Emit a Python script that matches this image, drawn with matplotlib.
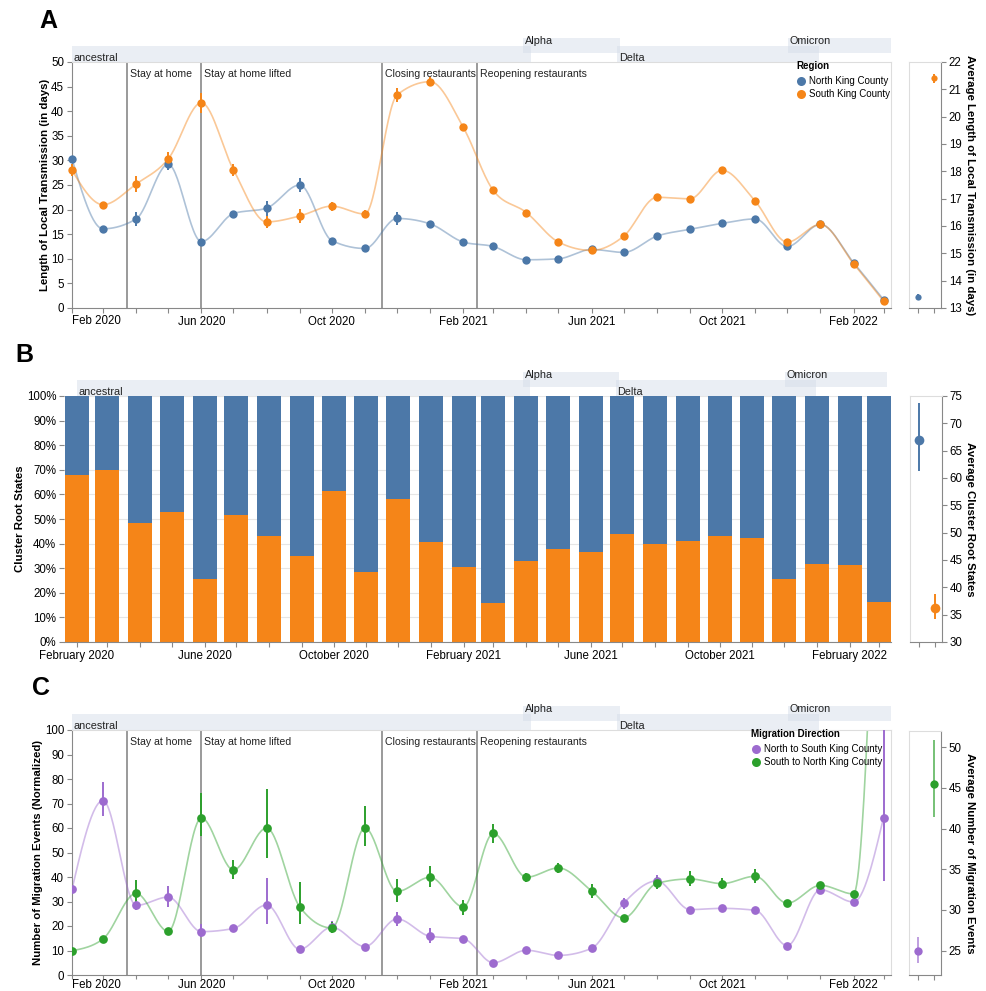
import matplotlib
matplotlib.use('Agg')
import matplotlib.pyplot as plt
import matplotlib.dates as mdates
from matplotlib.lines import Line2D
import numpy as np
import pandas as pd

plt.rcParams['font.family'] = ['Liberation Sans', 'DejaVu Sans']

# monthly time points, Feb 2020 .. Mar 2022
months = pd.date_range('2020-02-01', '2022-03-01', freq='MS')

# panel A: length of local transmission (days)
north_len = [30.3, 16.1, 18.1, 29.2, 13.5, 19.2, 20.3, 25.0, 13.7, 12.1, 18.2, 17.1, 13.4,
             12.5, 9.8, 10.0, 11.9, 11.3, 14.6, 16.0, 17.2, 18.1, 12.5, 17.0, 9.2, 1.7]
north_len_err = [0.5, 0.4, 1.5, 1.1, 0.4, 0.5, 1.5, 1.4, 0.4, 0.4, 1.3, 0.6, 0.4,
                 0.3, 0.3, 0.3, 0.4, 0.3, 0.4, 0.4, 0.4, 0.4, 0.3, 0.3, 0.3, 0.3]
south_len = [28.0, 21.0, 25.2, 30.3, 41.7, 28.1, 17.5, 18.7, 20.7, 19.1, 43.3, 46.0, 36.7,
             23.9, 19.4, 13.4, 11.7, 14.6, 22.5, 22.2, 28.0, 21.7, 13.4, 17.0, 9.0, 1.4]
south_len_err = [1.2, 0.4, 1.7, 1.4, 2.1, 1.2, 1.2, 1.5, 0.9, 0.9, 1.5, 0.9, 0.5,
                 0.4, 0.4, 0.3, 0.4, 0.4, 0.4, 0.5, 0.5, 0.4, 0.4, 0.3, 0.4, 0.3]
avg_len = [13.4, 21.4]
avg_len_err = [0.1, 0.15]

# panel B: share of cluster roots in South King County (%)
south_share = [67.7, 70.0, 48.5, 52.9, 25.5, 51.6, 43.2, 34.9, 61.3, 28.3, 58.2, 40.6, 30.6,
               15.8, 32.9, 37.9, 36.5, 43.9, 39.7, 40.9, 42.9, 42.3, 25.7, 31.7, 31.5, 16.3]
avg_roots = [67.0, 36.2]
avg_roots_lo = [61.3, 34.2]
avg_roots_hi = [73.7, 38.8]

# panel C: normalized migration events
n2s = [35.0, 71.2, 28.4, 31.8, 17.7, 19.0, 28.6, 10.5, 19.5, 11.6, 22.9, 15.8, 14.8,
       5.0, 10.1, 8.0, 10.9, 29.3, 38.4, 26.7, 27.2, 26.4, 12.0, 34.8, 29.8, 64.2]
n2s_lo = [33.5, 65.0, 26.5, 27.8, 15.5, 18.0, 21.0, 9.5, 17.5, 10.6, 20.0, 13.0, 14.0,
          4.3, 9.4, 7.3, 10.0, 27.0, 36.0, 26.0, 26.5, 25.7, 11.3, 34.0, 29.0, 38.2]
n2s_hi = [36.5, 78.6, 30.5, 36.5, 21.0, 20.0, 39.6, 11.5, 22.0, 12.6, 25.8, 19.0, 15.6,
          5.7, 10.8, 8.7, 11.8, 31.5, 41.0, 27.4, 27.9, 27.1, 12.7, 35.6, 30.6, 110.0]
s2n = [9.9, 14.7, 33.3, 17.8, 64.1, 42.9, 60.0, 27.8, 19.2, 60.0, 34.1, 39.9, 27.8,
       57.8, 39.9, 43.7, 34.3, 23.3, 37.4, 39.2, 37.3, 40.3, 29.3, 36.6, 33.1, 280.0]
s2n_lo = [9.2, 14.0, 28.7, 17.0, 56.6, 39.3, 47.8, 21.0, 17.0, 52.8, 29.8, 35.9, 24.6,
          53.9, 38.0, 41.6, 31.5, 22.5, 35.2, 36.4, 35.2, 37.4, 28.5, 35.8, 32.3, 260.0]
s2n_hi = [10.6, 15.4, 38.9, 18.6, 74.3, 47.1, 76.1, 38.1, 21.5, 69.1, 39.2, 44.4, 30.7,
          61.8, 41.6, 45.9, 37.2, 24.1, 39.8, 42.4, 39.7, 43.2, 30.1, 37.4, 33.9, 300.0]
avg_mig = [25.0, 45.5]
avg_mig_lo = [23.5, 41.4]
avg_mig_hi = [26.7, 50.9]

events = [('2020-03-23', 'Stay at home'),
          ('2020-06-01', 'Stay at home lifted'),
          ('2020-11-17', 'Closing restaurants'),
          ('2021-02-14', 'Reopening restaurants')]
# (name, start, end, row) row 0 = lower strip, 1 = upper strip
variants = [('ancestral', '2020-02-01', '2021-04-05', 0),
            ('Alpha', '2021-03-29', '2021-06-28', 1),
            ('Delta', '2021-06-25', '2021-12-31', 0),
            ('Omicron', '2021-12-02', '2022-03-08', 1)]

major_dates = ['2020-02-01', '2020-06-01', '2020-10-01', '2021-02-01',
               '2021-06-01', '2021-10-01', '2022-02-01']
short_labels = ['Feb 2020', 'Jun 2020', 'Oct 2020', 'Feb 2021', 'Jun 2021', 'Oct 2021', 'Feb 2022']
long_labels = ['February 2020', 'June 2020', 'October 2020', 'February 2021',
               'June 2021', 'October 2021', 'February 2022']

BLUE, ORANGE = '#4c78a8', '#f58518'
PURPLE, GREEN = '#9d6bcf', '#2ca02c'
AXC, VIEW = '#888888', '#dddddd'
TICK_FS = 8.3
TITLE_FS = 8.2
NOTE_FS = 7.6
LEG_FS = 7.0

W, H = 987, 991
fig = plt.figure(figsize=(W / 100, H / 100), dpi=100)


def d(s):
    return mdates.date2num(pd.Timestamp(s))


xm = mdates.date2num(months)


def px_axes(left, top, right, bottom):
    return fig.add_axes([left / W, 1 - bottom / H, (right - left) / W, (bottom - top) / H])


def monotone(x, y, steps=30):
    # same as d3 curveMonotoneX
    x = np.asarray(x, float)
    y = np.asarray(y, float)
    h = np.diff(x)
    s = np.diff(y) / h
    m = np.zeros_like(y)
    sg = lambda v: -1 if v < 0 else 1
    for i in range(1, len(y) - 1):
        p = (s[i - 1] * h[i] + s[i] * h[i - 1]) / (h[i - 1] + h[i])
        m[i] = (sg(s[i - 1]) + sg(s[i])) * min(abs(s[i - 1]), abs(s[i]), 0.5 * abs(p))
    m[0] = (3 * s[0] - m[1]) / 2
    m[-1] = (3 * s[-1] - m[-2]) / 2
    xs, ys = [], []
    for i in range(len(h)):
        t = np.linspace(0, 1, steps)
        h00 = 2 * t**3 - 3 * t**2 + 1
        h10 = t**3 - 2 * t**2 + t
        h01 = -2 * t**3 + 3 * t**2
        h11 = t**3 - t**2
        ys.append(h00 * y[i] + h10 * h[i] * m[i] + h01 * y[i + 1] + h11 * h[i] * m[i + 1])
        xs.append(x[i] + t * h[i])
    return np.concatenate(xs), np.concatenate(ys)


def style_main(ax):
    for side in ['top', 'right']:
        ax.spines[side].set_color(VIEW)
    for side in ['left', 'bottom']:
        ax.spines[side].set_color(AXC)
    for sp in ax.spines.values():
        sp.set_linewidth(0.8)
    ax.tick_params(which='both', length=3.6, width=0.8, color=AXC, labelsize=TICK_FS, pad=2)


def time_axis(ax, labels, flush_first, tick_len=3.6, pad=2, drop=7):
    ax.set_xticks([d(s) for s in major_dates])
    shown = list(labels)
    if flush_first:
        shown[0] = ''
        ax.annotate(labels[0], xy=(0, 0), xycoords='axes fraction', xytext=(0, -drop),
                    textcoords='offset pixels', ha='left', va='top', fontsize=TICK_FS)
    ax.set_xticklabels(shown)
    ax.set_xticks(xm, minor=True)
    ax.tick_params(axis='x', which='both', length=tick_len, pad=pad)


def variant_strip(top, left, right, xlim):
    bx = px_axes(left, top, right, top + 24)
    bx.set_xlim(xlim)
    bx.set_ylim(0, 24)
    bx.axis('off')
    for name, start, end, row in variants:
        y0, y1 = (0, 16) if row == 0 else (9, 24)
        bx.fill_between([d(start), d(end)], y0, y1, color='#d6deea', alpha=0.5, lw=0)
        bx.text(d(start) + 1.5, 0.8 if row == 0 else 17.5, name, fontsize=7.8,
                va='baseline', ha='left', color='#222222')


def event_lines(ax):
    for day, label in events:
        ax.axvline(d(day), color='#9a9a9a', lw=1.4, zorder=1)
        ax.annotate(label, xy=(d(day), 1), xycoords=('data', 'axes fraction'),
                    xytext=(3, -12), textcoords='offset pixels', ha='left', va='center',
                    fontsize=NOTE_FS, color='#222222')


def side_panel(left, top, bottom, vals, lo, hi, colors, ylim, yticks, title, msize, ealpha):
    sx = px_axes(left, top, left + 32, bottom)
    for i in range(2):
        sx.vlines(i, lo[i], hi[i], color=colors[i], lw=1.4, alpha=ealpha)
        sx.plot(i, vals[i], 'o', color=colors[i], ms=msize, mec='none')
    sx.set_xlim(-0.56, 1.44)
    sx.set_ylim(*ylim)
    sx.set_xticks([0, 1])
    sx.set_xticklabels([])
    sx.set_yticks(yticks)
    sx.yaxis.tick_right()
    for side in ['top', 'left']:
        sx.spines[side].set_color(VIEW)
    for side in ['right', 'bottom']:
        sx.spines[side].set_color(AXC)
    for sp in sx.spines.values():
        sp.set_linewidth(0.8)
    sx.tick_params(length=3.6, width=0.8, color=AXC, labelsize=TICK_FS, pad=2)
    fig.text(970 / W, 1 - (top + bottom) / 2 / H, title, rotation=-90, ha='center',
             va='center', fontsize=TITLE_FS, fontweight='bold')
    return sx


def legend_block(x, y, title, labels, colors):
    fig.text(x / W, 1 - y / H, title, fontsize=LEG_FS, fontweight='bold', va='center', ha='left')
    for k, (lab, col) in enumerate(zip(labels, colors)):
        yy = y + 15 + 13 * k
        fig.add_artist(Line2D([(x + 5) / W], [1 - yy / H], marker='o', color=col, ms=6.5,
                              mec='none', ls='none', transform=fig.transFigure))
        fig.text((x + 13) / W, 1 - yy / H, lab, fontsize=LEG_FS, va='center', ha='left')


def ylabel(x, top, bottom, text):
    fig.text(x / W, 1 - (top + bottom) / 2 / H, text, rotation=90, ha='center', va='center',
             fontsize=TITLE_FS, fontweight='bold')


xlim_line = (d('2020-02-01'), d('2022-03-08'))
xlim_bar = (d('2020-01-20'), d('2022-03-12'))

# ---- A: length of local transmission ----
axA = px_axes(72, 62, 891, 308)
event_lines(axA)
for vals, err, col in [(north_len, north_len_err, BLUE), (south_len, south_len_err, ORANGE)]:
    cx, cy = monotone(xm, vals)
    axA.plot(cx, cy, color=col, lw=1.2, alpha=0.45, zorder=2)
    v = np.array(vals)
    e = np.array(err)
    axA.vlines(xm, v - e, v + e, color=col, lw=1.4, zorder=3, clip_on=False)
    axA.plot(xm, vals, 'o', color=col, ms=6, mec='none', zorder=4, clip_on=False)
axA.set_xlim(xlim_line)
axA.set_ylim(0, 50)
axA.set_yticks(range(0, 51, 5))
style_main(axA)
time_axis(axA, short_labels, True)
variant_strip(38, 72, 891, xlim_line)
legend_block(796, 66, 'Region', ['North King County', 'South King County'], [BLUE, ORANGE])
ylabel(45, 62, 308, 'Length of Local Transmission (in days)')
side_panel(909, 62, 308, avg_len, np.array(avg_len) - np.array(avg_len_err),
           np.array(avg_len) + np.array(avg_len_err), [BLUE, ORANGE], (13, 22),
           range(13, 23), 'Average Length of Local Transmission (in days)', 4.5, 1.0)

# ---- B: cluster root states ----
axB = px_axes(64, 396, 891, 642)
share = np.array(south_share)
axB.bar(xm, share, width=22.7, color=ORANGE, zorder=2)
axB.bar(xm, 100 - share, bottom=share, width=22.7, color=BLUE, zorder=2)
axB.set_xlim(xlim_bar)
axB.set_ylim(0, 100)
axB.set_yticks(range(0, 101, 10))
axB.set_yticklabels([f'{t}%' for t in range(0, 101, 10)])
axB.grid(axis='y', color='#e6e6e6', lw=0.8, zorder=0)
axB.set_axisbelow(True)
style_main(axB)
for side in ['top', 'right', 'left']:
    axB.spines[side].set_visible(False)
time_axis(axB, long_labels, False)
variant_strip(372, 64, 891, xlim_bar)
ylabel(20, 396, 642, 'Cluster Root States')
side_panel(910, 396, 642, avg_roots, avg_roots_lo, avg_roots_hi, [BLUE, ORANGE], (30, 75),
           range(30, 76, 5), 'Average Cluster Root States', 7, 1.0)

# ---- C: migration events ----
axC = px_axes(72, 730, 891, 975)
event_lines(axC)
for vals, lo, hi, col in [(n2s, n2s_lo, n2s_hi, PURPLE), (s2n, s2n_lo, s2n_hi, GREEN)]:
    cx, cy = monotone(xm, vals)
    axC.plot(cx, cy, color=col, lw=1.2, alpha=0.45, zorder=2)
    axC.vlines(xm, lo, hi, color=col, lw=1.4, zorder=3)
    axC.plot(xm, vals, 'o', color=col, ms=6.3, mec='none', zorder=4)
axC.set_xlim(xlim_line)
axC.set_ylim(0, 100)
axC.set_yticks(range(0, 101, 10))
style_main(axC)
# bottom edge of the figure is tight here, so the date labels sit a bit closer
time_axis(axC, short_labels, True, tick_len=2.6, pad=0, drop=4)
variant_strip(706, 72, 891, xlim_line)
legend_block(751, 734, 'Migration Direction',
             ['North to South King County', 'South to North King County'], [PURPLE, GREEN])
ylabel(38, 730, 975, 'Number of Migration Events (Normalized)')
side_panel(909, 731, 975, avg_mig, avg_mig_lo, avg_mig_hi, [PURPLE, GREEN], (22, 52),
           range(25, 51, 5), 'Average Number of Migration Events', 6, 0.65)

# panel letters
for letter, x, y in [('A', 39, 28), ('B', 15, 362), ('C', 32, 695)]:
    fig.text(x / W, 1 - y / H, letter, fontsize=18, fontweight='bold', va='baseline', ha='left')

fig.savefig('out.png', dpi=100)
